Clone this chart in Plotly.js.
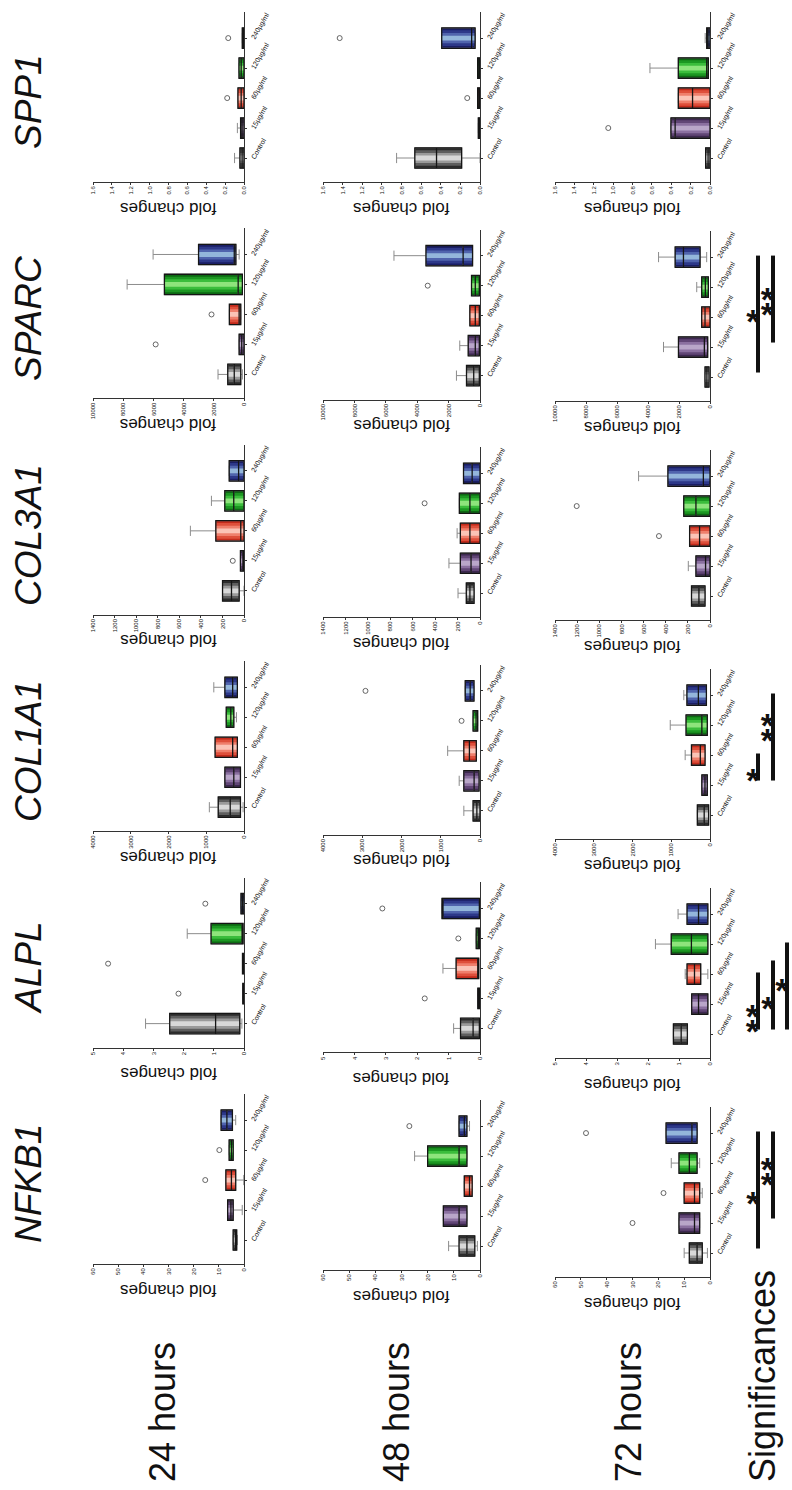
<!DOCTYPE html>
<html><head><meta charset="utf-8">
<script src="https://cdn.plot.ly/plotly-3.0.1.min.js"></script>
<style>
html,body{margin:0;padding:0;overflow:hidden;background:#fff;width:792px;height:1490px;}
#wrap{position:absolute;left:0;top:0;width:1490px;height:792px;transform-origin:0 0;transform:translate(0px,1490px) rotate(-90deg);}
#chart{width:1490px;height:792px;}
</style></head><body><div id="wrap"><div id="chart"></div></div>
<script>
const genes = ['NFKB1','ALPL','COL1A1','COL3A1','SPARC','SPP1'];
const times = ['24 hours','48 hours','72 hours'];
const groups = ['Control','15µg/ml','60µg/ml','120µg/ml','240µg/ml'];
const axisMax = [60, 5, 4000, 1400, 10000, 1.6];
const axisStep = [10, 1, 1000, 200, 2000, 0.2];

// rows per group: [lower whisker, q1, median, q3, upper whisker]
const NFKB1_24h = [[2.6,2.9,3.4,4.3,4.3],[0.7,4.3,5.2,6.5,6.5],[0.1,3.3,5.0,7.2,7.2],[4.3,4.3,5.0,5.9,5.9],[3.3,4.6,6.8,9.1,9.1]];
const NFKB1_24h_out = [[2,15.4],[3,9.8]];
const NFKB1_48h = [[1,2,5,8,12],[5,5,8,14,14],[3,3,4,6,6],[5,5,8,20,25],[4,5,6,8,8]];
const NFKB1_48h_out = [[4,27]];
const NFKB1_72h = [[1,3,5,8,10],[4,4,6,12,12],[3,4,6,10,10],[4,5,8,12,15],[5,5,7,17,17]];
const NFKB1_72h_out = [[1,30],[2,18],[4,48]];

const ALPL_24h = [[0.07,0.14,0.94,2.46,3.26],[0,0,0.02,0.04,0.04],[0,0,0.02,0.05,0.05],[0.03,0.03,0.05,1.09,1.88],[0,0,0.05,0.1,0.1]];
const ALPL_24h_out = [[1,2.17],[2,4.5],[4,1.28]];
const ALPL_48h = [[0,0.02,0.22,0.62,0.84],[0,0,0.03,0.07,0.07],[0.04,0.04,0.07,0.76,1.18],[0,0.02,0.06,0.12,0.12],[0,0.02,1.2,1.21,1.21]];
const ALPL_48h_out = [[1,1.76],[3,0.69],[4,3.11]];
const ALPL_72h = [[0.73,0.73,0.93,1.18,1.18],[0.07,0.07,0.37,0.59,0.59],[0.07,0.3,0.5,0.74,0.8],[0.07,0.07,0.6,1.25,1.76],[0.07,0.07,0.37,0.74,1.03]];
const ALPL_72h_out = [];

const COL1A1_24h = [[24,94,365,682,918],[94,94,270,506,506],[176,176,300,765,765],[200,270,350,470,470],[176,176,300,506,800]];
const COL1A1_24h_out = [];
const COL1A1_48h = [[0,0,80,176,412],[24,24,150,412,530],[94,94,270,412,824],[59,59,100,176,176],[153,153,250,376,376]];
const COL1A1_48h_out = [[3,470],[4,2918]];
const COL1A1_72h = [[35,35,150,326,326],[70,70,130,210,210],[128,128,250,478,641],[70,70,210,618,1026],[93,93,300,595,676]];
const COL1A1_72h_out = [];

const COL3A1_24h = [[0,45,116,199,199],[0,0,10,33,33],[0,0,30,261,497],[0,0,95,178,302],[0,0,50,137,137]];
const COL3A1_24h_out = [[1,104]];
const COL3A1_48h = [[53,53,90,122,196],[0,0,80,175,277],[0,0,90,175,204],[0,0,90,184,184],[0,0,70,147,147]];
const COL3A1_48h_out = [[3,494]];
const COL3A1_72h = [[45,45,100,167,167],[0,0,40,127,196],[0,0,94,184,184],[0,0,127,237,237],[0,0,60,380,645]];
const COL3A1_72h_out = [[2,461],[3,1204]];

const SPARC_24h = [[107,215,645,1075,1720],[0,0,150,322,322],[215,215,322,968,968],[107,107,387,5270,7740],[322,538,645,3010,6020]];
const SPARC_24h_out = [[1,5850],[2,2150]];
const SPARC_48h = [[43,43,400,860,1500],[43,43,300,750,1290],[43,43,300,645,645],[43,43,300,540,540],[473,473,1075,3440,5480]];
const SPARC_48h_out = [[3,3330]];
const SPARC_72h = [[64,64,200,321,321],[150,150,364,2034,3000],[0,0,321,535,535],[107,107,300,535,856],[214,642,1713,2248,3319]];
const SPARC_72h_out = [];

const SPP1_24h = [[0,0,0.02,0.043,0.1],[0,0,0.02,0.036,0.07],[0,0,0.03,0.064,0.064],[0,0,0.03,0.053,0.053],[0,0,0.01,0.018,0.018]];
const SPP1_24h_out = [[2,0.178],[4,0.167]];
const SPP1_48h = [[0,0.187,0.443,0.664,0.85],[0,0,0.008,0.017,0.017],[0,0,0.01,0.024,0.024],[0,0,0.01,0.024,0.024],[0.05,0.05,0.085,0.39,0.39]];
const SPP1_48h_out = [[2,0.13],[4,1.43]];
const SPP1_72h = [[0,0,0.02,0.045,0.045],[0,0,0.36,0.403,0.403],[0,0,0.18,0.327,0.327],[0.017,0.017,0.034,0.327,0.62],[0,0,0.02,0.034,0.05]];
const SPP1_72h_out = [[1,1.05]];

// significance bars (72 h): [gene index, from group, to group, level]
const sigLines = [[0,0,4,0],[0,1,4,1],[1,0,2,0],[1,0,2.4,1],[1,0,3,2],[2,1,2,0],[2,1,4,1],[4,0,4,0],[4,1,4,1]];
// stars: [gene index, group position, level, count]
const sigStars = [[0,1.9,0,1],[0,2.8,1,2],[1,0.6,0,2],[1,1.1,1,1],[1,1.7,2,1],[2,1.4,0,1],[2,3.0,1,2],[4,2.1,0,1],[4,2.6,1,2]];

const DATA = {
  NFKB1:[[NFKB1_24h,NFKB1_24h_out],[NFKB1_48h,NFKB1_48h_out],[NFKB1_72h,NFKB1_72h_out]],
  ALPL:[[ALPL_24h,ALPL_24h_out],[ALPL_48h,ALPL_48h_out],[ALPL_72h,ALPL_72h_out]],
  COL1A1:[[COL1A1_24h,COL1A1_24h_out],[COL1A1_48h,COL1A1_48h_out],[COL1A1_72h,COL1A1_72h_out]],
  COL3A1:[[COL3A1_24h,COL3A1_24h_out],[COL3A1_48h,COL3A1_48h_out],[COL3A1_72h,COL3A1_72h_out]],
  SPARC:[[SPARC_24h,SPARC_24h_out],[SPARC_48h,SPARC_48h_out],[SPARC_72h,SPARC_72h_out]],
  SPP1:[[SPP1_24h,SPP1_24h_out],[SPP1_48h,SPP1_48h_out],[SPP1_72h,SPP1_72h_out]]
};

// colours from edge to centre for each group (cylinder shading)
const shades = [
  ['#2b2b2b','#5e5e5e','#9a9a9a','#d8d8d8'],
  ['#3d2850','#614676','#8b70a0','#b9a6c9'],
  ['#c22a1b','#de4f3b','#ef7f6c','#fbc3b6'],
  ['#0d6813','#1c9722','#3bbd3c','#8ee47c'],
  ['#1a1e64','#2d3889','#5064ad','#93b6db']
];
const layerW = [0.68, 0.52, 0.34, 0.16];

// page geometry (un-rotated frame: W=1490, H=792)
const W = 1490, H = 792;
const colTop = [93, 323, 555], colBase = [244, 480, 710];
const rowTopAxis = 182, rowBottomAxis = [1264, 1270, 1277];
const catLen = 170;

const FONT = 'Liberation Sans, Arial, Helvetica, sans-serif';
const traces = [];
const layout = {
  width: W, height: H, margin: {l:0,r:0,t:0,b:0}, showlegend:false,
  paper_bgcolor:'#fff', plot_bgcolor:'rgba(0,0,0,0)',
  font:{family:FONT, color:'#111'}, boxmode:'overlay',
  annotations:[], shapes:[]
};
const axisStart = {};

genes.forEach((g, gi) => {
  times.forEach((t, ti) => {
    const n = gi*3 + ti + 1;
    const xa = n === 1 ? 'x' : 'x'+n, ya = n === 1 ? 'y' : 'y'+n;
    const pitch = (rowBottomAxis[ti] - rowTopAxis)/5;
    const imgY = rowTopAxis + (5-gi)*pitch;
    const u0 = W - imgY;
    axisStart[gi+'_'+ti] = u0;
    const [stats, outs] = DATA[g][ti];
    layout['xaxis'+(n===1?'':n)] = {
      domain:[u0/W, (u0+catLen)/W], anchor: ya, type:'category',
      categoryorder:'array', categoryarray: groups, range:[-0.8, 4.87],
      showline:true, linecolor:'#333', linewidth:1, ticks:'outside', ticklen:2, tickcolor:'#333',
      tickfont:{size:7, family:FONT, color:'#111'}, showgrid:false, zeroline:false, fixedrange:true
    };
    layout['yaxis'+(n===1?'':n)] = {
      domain:[1-colBase[ti]/H, 1-colTop[ti]/H], anchor: xa,
      range:[0, axisMax[gi]], dtick: axisStep[gi], tick0:0,
      tickformat: gi===5 ? '.1f' : 'd',
      showline:true, linecolor:'#333', linewidth:1, ticks:'outside', ticklen:2, tickcolor:'#333',
      tickfont:{size:6, family:FONT, color:'#111'}, showgrid:false, zeroline:false, fixedrange:true
    };
    layout.annotations.push({
      text:'fold changes', xref:'paper', yref:'paper',
      x:(u0-26)/W, y:1-((colTop[ti]+colBase[ti])/2)/H, textangle:-90,
      showarrow:false, xanchor:'center', yanchor:'middle', font:{size:17, family:FONT, color:'#111'}
    });
    stats.forEach((s, k) => {
      const [lo, q1, med, q3, hi] = s;
      layerW.forEach((w, li) => {
        traces.push({
          type:'box', xaxis:xa, yaxis:ya, x:[groups[k]],
          q1:[q1], median:[med], q3:[q3],
          lowerfence: li===0 ? [lo] : [q1], upperfence: li===0 ? [hi] : [q3],
          width:w, fillcolor: shades[k][li],
          line:{color: li===0 ? '#8c8c8c' : 'rgba(0,0,0,0)', width: li===0 ? 1 : 0},
          whiskerwidth: li===0 ? 0.5 : 0, boxpoints:false, hoverinfo:'skip'
        });
      });
      traces.push({
        type:'box', xaxis:xa, yaxis:ya, x:[groups[k]],
        q1:[q1], median:[med], q3:[q3], lowerfence:[q1], upperfence:[q3],
        width:layerW[0], fillcolor:'rgba(0,0,0,0)',
        line:{color:'#151515', width:1.3}, whiskerwidth:0, boxpoints:false, hoverinfo:'skip'
      });
    });
    if (outs.length) {
      traces.push({
        type:'scatter', mode:'markers', xaxis:xa, yaxis:ya,
        x: outs.map(o => groups[o[0]]), y: outs.map(o => o[1]),
        marker:{symbol:'circle-open', size:5, color:'#555', line:{width:0.9}}, hoverinfo:'skip'
      });
    }
  });
  const u0 = axisStart[gi+'_0'];
  layout.annotations.push({
    text:'<i>'+g+'</i>', xref:'paper', yref:'paper', x:(u0+80)/W, y:1-28/H,
    showarrow:false, xanchor:'center', yanchor:'middle', font:{size:37, family:FONT, color:'#111'}
  });
});

const timeV = [163, 396, 628];
times.forEach((t, ti) => {
  layout.annotations.push({
    text:t, xref:'paper', yref:'paper', x:6/W, y:1-timeV[ti]/H,
    showarrow:false, xanchor:'left', yanchor:'middle', font:{size:36, family:FONT, color:'#111'}
  });
});
layout.annotations.push({
  text:'Significances', xref:'paper', yref:'paper', x:6/W, y:1-762/H,
  showarrow:false, xanchor:'left', yanchor:'middle', font:{size:36, family:FONT, color:'#111'}
});

// significance bars under the 72 h panels
const levelV = [758, 773, 787];
sigLines.forEach(([gi, a, b, lv]) => {
  const n = gi*3 + 3;
  layout.shapes.push({
    type:'line', xref:'x'+n, yref:'paper', x0:a+0.15, x1:b+0.05,
    y0:1-levelV[lv]/H, y1:1-levelV[lv]/H, line:{color:'#111', width:4}
  });
});
// each star drawn turned a quarter so that its box stays inside the page
const starSize = 34;
sigStars.forEach(([gi, pos, lv, count]) => {
  const n = gi*3 + 3;
  for (let c = 0; c < count; c++) {
    const p = pos + (c - (count-1)/2)*0.5;
    layout.annotations.push({
      text:'*', xref:'x'+n, yref:'paper', x:p - 0.24, y:1-(levelV[lv]-5)/H, textangle:90,
      showarrow:false, xanchor:'center', yanchor:'middle', font:{size:starSize, family:FONT, color:'#111', weight:'bold'}
    });
  }
});

Plotly.newPlot('chart', traces, layout, {staticPlot:true, displayModeBar:false});
</script>
</body></html>
